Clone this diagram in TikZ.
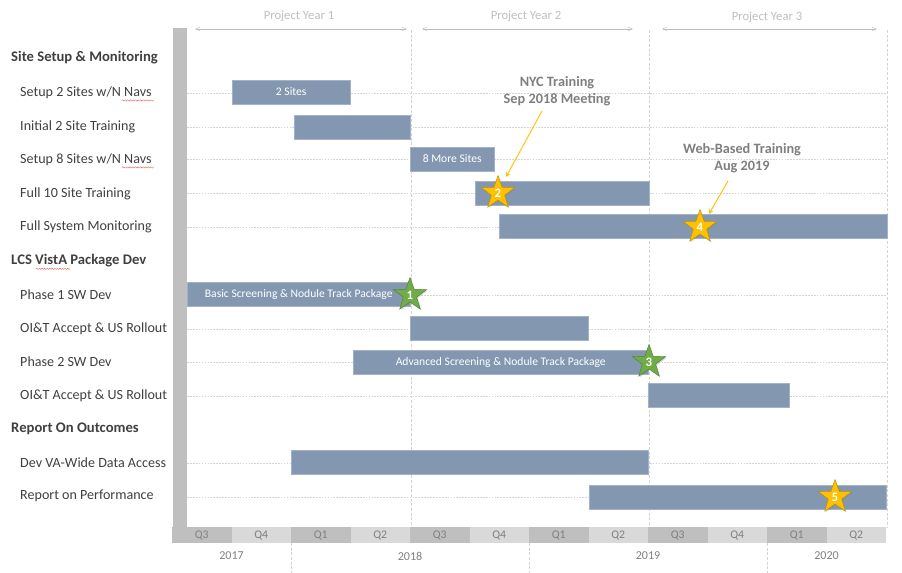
\documentclass[tikz,border=0pt]{standalone}
\usepackage{fontspec}
\setmainfont{Carlito}
\usetikzlibrary{positioning,shapes.geometric,arrows,shadows,decorations.pathmorphing}

\definecolor{barblue}{HTML}{8497B0}
\definecolor{barline}{HTML}{A3B2C6}
\definecolor{sidegray}{HTML}{BFBFBF}
\definecolor{qdark}{HTML}{BFBFBF}
\definecolor{qlight}{HTML}{D9D9D9}
\definecolor{qtext}{HTML}{808080}
\definecolor{gridgray}{HTML}{D4D4D4}
\definecolor{labelgray}{HTML}{404040}
\definecolor{notegray}{HTML}{7F7F7F}
\definecolor{yeargray}{HTML}{BFBFBF}
\definecolor{goldfill}{HTML}{FFC000}
\definecolor{goldline}{HTML}{BF9000}
\definecolor{greenfill}{HTML}{70AD47}
\definecolor{greenline}{HTML}{548235}
\definecolor{spellred}{HTML}{E03030}

\tikzstyle{tasklabel} = [anchor=west, inner sep=0pt, text=labelgray, font=\fontsize{12}{14}\selectfont]
\tikzstyle{grouplabel} = [anchor=west, inner sep=0pt, text=labelgray, font=\fontsize{12.5}{14}\selectfont\bfseries]
\tikzstyle{taskbar} = [rectangle, anchor=west, inner sep=0pt, minimum height=0.72cm, fill=barblue, draw=barline, text=white, font=\fontsize{9.9}{11}\selectfont]
\tikzstyle{qcelldark} = [rectangle, inner sep=0pt, minimum width=1.785cm, minimum height=0.48cm, fill=qdark, text=qtext, font=\fontsize{10}{11}\selectfont]
\tikzstyle{qcelllight} = [qcelldark, fill=qlight]
\tikzstyle{yearlabel} = [inner sep=0pt, text=qtext, font=\fontsize{10.3}{11}\selectfont]
\tikzstyle{goldstar} = [star, star points=5, star point ratio=2.5, minimum size=1.05cm, inner sep=0pt, fill=goldfill, draw=goldline, text=white, drop shadow={opacity=0.25, shadow xshift=1pt, shadow yshift=-1pt}, font=\fontsize{11}{12}\selectfont\bfseries]
\tikzstyle{greenstar} = [goldstar, fill=greenfill, draw=greenline]
\tikzstyle{note} = [align=center, inner sep=0pt, text=notegray, font=\fontsize{12.2}{14}\selectfont\bfseries]
\tikzstyle{projyear} = [inner sep=0pt, text=yeargray, font=\fontsize{10.8}{12}\selectfont]
\tikzstyle{callout} = [thick, draw=goldfill, ->, >=stealth]
\tikzstyle{yeararrow} = [draw=yeargray, <->, >=angle 45]
\tikzstyle{gridline} = [draw=gridgray, dash pattern=on 2.5pt off 1.5pt, very thin]
\tikzstyle{rowline} = [draw=gridgray, dash pattern=on 1.5pt off 1pt, very thin]
\tikzstyle{squiggle} = [draw=spellred, very thin, decorate, decoration={snake, segment length=2.2pt, amplitude=0.6pt}]

\begin{document}
\begin{tikzpicture}[x=0.03cm, y=-0.03cm]

\useasboundingbox (0,0) rectangle (902,573);


% Project years

	\node (yearOne) [projyear] at (299,16) {Project Year 1};
	\node (yearTwo) [projyear] at (526,16) {Project Year 2};
	\node (yearThree) [projyear] at (767,17) {Project Year 3};

	\coordinate (yearOneL) at (195,29);
	\coordinate (yearOneR) at (407,29);
	\coordinate (yearTwoL) at (422,29);
	\coordinate (yearTwoR) at (633,29);
	\coordinate (yearThreeL) at (662,29);
	\coordinate (yearThreeR) at (877,29);

	\draw [yeararrow] (yearOneL) -- (yearOneR);
	\draw [yeararrow] (yearTwoL) -- (yearTwoR);
	\draw [yeararrow] (yearThreeL) -- (yearThreeR);


% Grid

	\fill [sidegray] (173,28) rectangle (187,527);

	\draw [gridline] (411,30) -- (411,527);
	\draw [gridline] (649,30) -- (649,527);
	\draw [gridline] (887,30) -- (887,527);

	\draw [rowline] (187,93) -- (887,93);
	\draw [rowline] (187,127) -- (887,127);
	\draw [rowline] (187,159) -- (887,159);
	\draw [rowline] (187,193) -- (887,193);
	\draw [rowline] (187,227) -- (887,227);
	\draw [rowline] (187,295) -- (887,295);
	\draw [rowline] (187,329) -- (887,329);
	\draw [rowline] (187,362) -- (887,362);
	\draw [rowline] (187,396) -- (887,396);
	\draw [rowline] (187,463) -- (887,463);
	\draw [rowline] (187,497) -- (887,497);


% Row labels

	\node (grpSites) [grouplabel] at (11,58) {Site Setup \& Monitoring};
	\node (setupTwo) [tasklabel] at (20,93) {Setup 2 Sites w/N Navs};
	\node (trainTwo) [tasklabel] at (20,127) {Initial 2 Site Training};
	\node (setupEight) [tasklabel] at (20,160) {Setup 8 Sites w/N Navs};
	\node (trainTen) [tasklabel] at (20,194) {Full 10 Site Training};
	\node (monitor) [tasklabel] at (20,227) {Full System Monitoring};

	\node (grpVista) [grouplabel] at (11,261) {LCS VistA Package Dev};
	\node (phaseOne) [tasklabel] at (20,295) {Phase 1 SW Dev};
	\node (acceptOne) [tasklabel] at (20,329) {OI\&T Accept \& US Rollout};
	\node (phaseTwo) [tasklabel] at (20,362) {Phase 2 SW Dev};
	\node (acceptTwo) [tasklabel] at (20,396) {OI\&T Accept \& US Rollout};

	\node (grpReport) [grouplabel] at (11,429) {Report On Outcomes};
	\node (dataAccess) [tasklabel] at (20,463) {Dev VA-Wide Data Access};
	\node (perfReport) [tasklabel] at (20,496) {Report on Performance};

	% spelling marks
	\draw [squiggle] ([xshift=-0.9cm, yshift=-1pt]setupTwo.south east) -- ([xshift=0.06cm, yshift=-1pt]setupTwo.south east);
	\draw [squiggle] ([xshift=-0.9cm, yshift=-1pt]setupEight.south east) -- ([xshift=0.06cm, yshift=-1pt]setupEight.south east);
	\draw [squiggle] ([xshift=0.75cm, yshift=-1pt]grpVista.south west) -- ([xshift=1.78cm, yshift=-1pt]grpVista.south west);


% Bars

	\node (barSetupTwo) [taskbar, minimum width=3.54cm] at (232,92) {2 Sites};
	\node (barTrainTwo) [taskbar, minimum width=3.48cm] at (294,127) {};
	\node (barSetupEight) [taskbar, minimum width=2.52cm] at (410,159) {8 More Sites};
	\node (barTrainTen) [taskbar, minimum width=5.22cm] at (475,193) {};
	\node (barMonitor) [taskbar, minimum width=11.64cm] at (499,226) {};

	\node (barPhaseOne) [taskbar, minimum width=6.69cm] at (187,294) {Basic Screening \& Nodule Track Package};
	\node (barAcceptOne) [taskbar, minimum width=5.34cm] at (410,328) {};
	\node (barPhaseTwo) [taskbar, minimum width=8.85cm] at (353,362) {Advanced Screening \& Nodule Track Package};
	\node (barAcceptTwo) [taskbar, minimum width=4.23cm] at (648,395) {};

	\node (barDataAccess) [taskbar, minimum width=10.71cm] at (291,462) {};
	\node (barPerfReport) [taskbar, minimum width=8.91cm] at (589,497) {};


% Milestones

	\node (starOne) [greenstar] at (410,295) {1};
	\node (starTwo) [goldstar] at (498,193) {2};
	\node (starThree) [greenstar] at (649,362) {3};
	\node (starFour) [goldstar] at (700,227) {4};
	\node (starFive) [goldstar] at (835,497) {5};


% Callouts

	\node (nycNote) [note] at (557,91) {NYC Training\\Sep 2018 Meeting};
	\node (webNote) [note] at (742,158) {Web-Based Training\\Aug 2019};

	\coordinate (nycTail) at (542,111);
	\coordinate (nycTip) at (506,177);
	\coordinate (webTail) at (728,181);
	\coordinate (webTip) at (709,214);

	\draw [callout] (nycTail) -- (nycTip);
	\draw [callout] (webTail) -- (webTip);


% Time axis

	\node (qA) [qcelldark] at (201.75,535) {Q3};
	\node (qB) [qcelllight] at (261.25,535) {Q4};
	\node (qC) [qcelldark] at (320.75,535) {Q1};
	\node (qD) [qcelllight] at (380.25,535) {Q2};
	\node (qE) [qcelldark] at (439.75,535) {Q3};
	\node (qF) [qcelllight] at (499.25,535) {Q4};
	\node (qG) [qcelldark] at (558.75,535) {Q1};
	\node (qH) [qcelllight] at (618.25,535) {Q2};
	\node (qI) [qcelldark] at (677.75,535) {Q3};
	\node (qJ) [qcelllight] at (737.25,535) {Q4};
	\node (qK) [qcelldark] at (796.75,535) {Q1};
	\node (qL) [qcelllight] at (856.25,535) {Q2};

	\node (yr2017) [yearlabel] at (231.5,556) {2017};
	\node (yr2018) [yearlabel] at (410,556) {2018};
	\node (yr2019) [yearlabel] at (648,556) {2019};
	\node (yr2020) [yearlabel] at (826.5,556) {2020};

	\draw [gridline] (291,543) -- (291,573);
	\draw [gridline] (529,543) -- (529,573);
	\draw [gridline] (767,543) -- (767,573);


\end{tikzpicture}
\end{document}
